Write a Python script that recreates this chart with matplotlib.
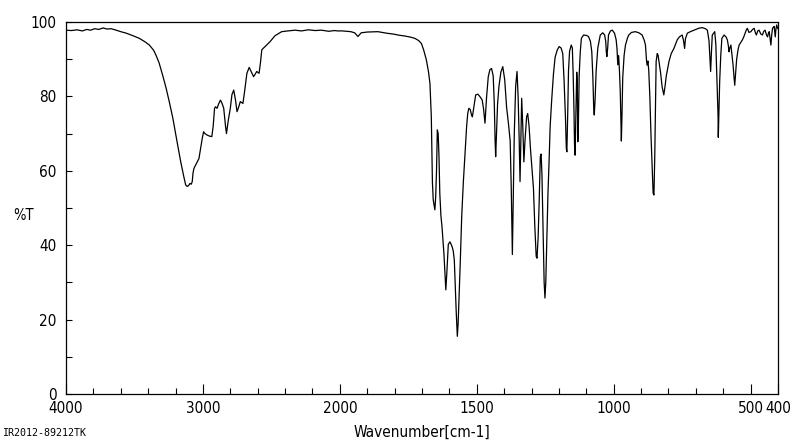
import numpy as np
import matplotlib
matplotlib.use("Agg")
import matplotlib.pyplot as plt
from matplotlib import font_manager
from matplotlib.ticker import FixedLocator, NullFormatter

# ---------------- data ----------------
wavenumber = [
    4000, 3960, 3920, 3880, 3850, 3820, 3790, 3760, 3730, 3700, 3670, 3633, 3600, 3560,
    3510, 3464, 3420, 3391, 3360, 3343, 3320, 3295, 3270, 3246, 3220, 3198, 3180, 3162,
    3140, 3126, 3115, 3105, 3095, 3085, 3078, 3072, 3065, 3041, 3029, 3005, 2995, 2985,
    2969, 2950, 2935, 2925, 2915, 2908, 2897, 2885, 2872, 2860, 2848, 2835, 2828, 2815,
    2800, 2788, 2775, 2762, 2751, 2740, 2727, 2708, 2695, 2679, 2662, 2645, 2630, 2618,
    2607, 2590, 2580, 2570, 2560, 2546, 2510, 2474, 2425, 2380, 2328, 2280, 2230, 2180,
    2135, 2080, 2040, 2015,
    1990, 1960, 1946, 1934, 1922, 1900, 1861, 1830, 1800, 1788, 1760, 1740, 1726, 1712,
    1702, 1694, 1684, 1676, 1671, 1668, 1666, 1664, 1662, 1659, 1655, 1653, 1650, 1647,
    1644, 1641, 1638, 1635, 1631, 1627, 1620, 1616, 1613, 1609, 1604, 1598, 1594, 1590,
    1586, 1582, 1578, 1575, 1571, 1568, 1565, 1560, 1555, 1549, 1542, 1537, 1533, 1529,
    1524, 1519, 1516, 1510, 1504, 1496, 1488, 1480, 1475, 1470, 1464, 1458, 1452, 1446,
    1440, 1436, 1433, 1431, 1428, 1424, 1419, 1412, 1405, 1398, 1391, 1384, 1378, 1374,
    1370, 1367, 1363, 1358, 1353, 1349, 1345, 1342, 1339, 1336, 1332, 1328, 1324, 1318,
    1314, 1309, 1304, 1299, 1293, 1288, 1283, 1280, 1276, 1272, 1268, 1265, 1262, 1258,
    1254, 1251, 1248, 1244, 1240, 1236, 1232, 1226, 1220, 1214, 1206, 1199, 1192, 1186,
    1181, 1176, 1173, 1171, 1168, 1165, 1161, 1155, 1151, 1148, 1145, 1143, 1141, 1138,
    1135, 1133, 1131, 1129, 1126, 1122, 1118, 1110, 1100, 1092, 1085, 1080, 1076, 1073,
    1071, 1068, 1064, 1058, 1049, 1040, 1033, 1029, 1027, 1025, 1022, 1019, 1012, 1005,
    997, 991, 988, 985, 982, 979, 976, 974, 972, 970, 967, 962, 957, 950,
    945, 935, 921, 908, 896, 888, 884, 880, 878, 875, 872, 868, 864, 860,
    856, 853, 850, 847, 845, 841, 838, 834, 829, 823, 817, 812, 808, 798,
    790, 780, 768, 760, 750, 745, 741, 738, 731, 720, 707, 690, 677, 665,
    658, 652, 649, 646, 643, 640, 631, 627, 625, 622, 619, 618, 616, 613,
    609, 605, 597, 590, 585, 581, 579, 576, 572, 568, 564, 561, 558, 555,
    551, 546, 542, 536, 530, 525, 520, 516, 512, 506, 499, 493, 487, 483,
    479, 474, 469, 463, 457, 452, 447, 442, 438, 435, 432, 429, 426, 423,
    420, 417, 414, 412, 410, 408, 405, 402, 400,
]
transmittance = [
    97.8, 97.7, 97.9, 97.6, 98.0, 97.8, 98.2, 98.0, 98.4, 98.1, 98.2, 97.8, 97.4, 97.0,
    96.3, 95.6, 94.6, 93.8, 92.4, 91.1, 89.0, 85.8, 82.4, 78.6, 74.2, 69.6, 66.0, 62.4,
    58.5, 56.2, 55.8, 56.0, 56.6, 56.4, 57.1, 59.5, 60.7, 62.4, 63.3, 68.7, 70.5, 70.0,
    69.6, 69.3, 69.2, 72.0, 76.8, 77.2, 76.8, 78.0, 79.0, 78.1, 76.8, 72.0, 70.0, 73.5,
    76.8, 80.5, 81.7, 79.0, 75.9, 77.0, 78.6, 78.1, 81.5, 86.2, 87.8, 86.5, 85.3, 86.0,
    86.7, 86.2, 89.0, 92.5, 92.9, 93.4, 94.7, 96.3, 97.4, 97.6, 97.8, 97.6, 97.9, 97.7,
    97.8, 97.5, 97.7, 97.6,
    97.6, 97.4, 97.1, 96.1, 97.1, 97.3, 97.4, 97.0, 96.7, 96.5, 96.2, 95.9, 95.6, 95.0,
    94.2, 92.5, 89.8, 86.5, 83.5, 78.0, 74.5, 65.0, 57.0, 52.2, 50.5, 49.5, 53.0, 60.0,
    71.0, 70.0, 64.0, 54.0, 48.0, 45.0, 37.8, 32.0, 28.0, 33.0, 40.2, 40.9, 40.3, 39.6,
    38.5, 36.0, 28.0, 22.0, 15.5, 19.0, 25.3, 36.0, 47.7, 57.0, 65.6, 72.0, 75.4, 76.8,
    76.5, 75.0, 74.5, 77.5, 80.4, 80.6, 79.9, 79.0, 76.5, 72.8, 80.0, 85.3, 87.2, 87.5,
    85.5, 78.0, 68.0, 63.8, 70.0, 78.0, 82.7, 86.5, 88.0, 84.5, 77.0, 72.5, 68.0, 55.0,
    37.5, 52.0, 70.0, 82.7, 86.7, 80.0, 68.0, 57.1, 68.0, 79.5, 72.0, 62.4, 68.0, 74.5,
    75.4, 72.0, 66.0, 61.0, 55.3, 45.0, 37.0, 36.5, 42.0, 52.0, 63.8, 64.5, 59.0, 45.0,
    30.0, 25.8, 30.0, 42.0, 54.0, 62.4, 72.0, 79.5, 86.0, 90.5, 92.5, 93.4, 93.0, 91.5,
    84.0, 74.0, 66.0, 65.1, 75.0, 87.0, 92.2, 93.8, 93.0, 86.0, 76.0, 67.0, 64.2, 75.0,
    86.5, 84.0, 67.8, 72.0, 85.8, 92.0, 95.6, 96.5, 96.4, 96.1, 94.8, 92.0, 85.0, 77.0,
    75.0, 79.0, 87.0, 93.0, 96.5, 97.1, 96.5, 94.7, 92.0, 90.7, 93.0, 96.5, 97.6, 97.8,
    97.0, 95.2, 92.9, 88.5, 91.0, 87.0, 81.3, 74.0, 68.0, 74.0, 85.0, 91.0, 93.8, 95.6,
    96.5, 97.2, 97.4, 97.1, 96.5, 95.0, 93.8, 89.5, 88.4, 89.5, 87.0, 80.0, 70.0, 62.0,
    54.0, 53.5, 64.0, 80.0, 89.4, 91.5, 91.1, 89.0, 86.5, 82.5, 80.4, 83.0, 85.5, 89.4,
    91.5, 92.9, 95.2, 96.0, 96.5, 95.0, 92.9, 95.5, 97.0, 97.4, 97.8, 98.3, 98.5, 98.2,
    97.8, 95.0, 91.0, 86.7, 92.0, 96.5, 97.4, 94.0, 89.0, 82.0, 75.0, 69.0, 75.0, 84.0,
    91.0, 95.6, 96.5, 96.0, 95.2, 93.5, 92.0, 93.0, 93.8, 91.0, 88.4, 85.5, 83.0, 86.0,
    90.0, 92.5, 93.8, 94.5, 95.2, 96.0, 97.0, 97.8, 98.3, 97.2, 97.4, 98.0, 98.3, 97.2,
    96.5, 97.6, 97.8, 96.8, 96.5, 97.5, 97.8, 96.5, 96.0, 97.0, 97.4, 95.5, 93.8, 96.5,
    98.3, 98.6, 98.8, 97.5, 96.0, 97.8, 99.2, 98.5, 98.2,
]

x_major = [4000, 3000, 2000, 1500, 1000, 500, 400]
x_major_labels = ["4000", "3000", "2000", "1500", "1000", "500", "400"]
x_minor = [3800, 3600, 3400, 3200, 2800, 2600, 2400, 2200,
           1900, 1800, 1700, 1600, 1400, 1300, 1200, 1100,
           900, 800, 700, 600]
y_major = [0, 20, 40, 60, 80, 100]
y_minor = [10, 30, 50, 70, 90]

# ---------------- fonts ----------------
has_condensed = any(f.name == "DejaVu Sans" and str(f.stretch) in ("condensed", "semi-condensed", "600", "500")
                    for f in font_manager.fontManager.ttflist)
plt.rcParams["font.family"] = ["DejaVu Sans"]
if has_condensed:
    plt.rcParams["font.stretch"] = "condensed"
    tick_fs, lab_fs = 11.0, 11.0
else:
    tick_fs, lab_fs = 10.0, 10.0

# ---------------- figure ----------------
fig = plt.figure(figsize=(8.0, 4.41), dpi=100)
ax = fig.add_axes([66 / 800, 47 / 441, 712 / 800, 372 / 441])


def fwd(w):
    w = np.asarray(w, dtype=float)
    return np.where(w >= 2000, w, 2 * w - 2000)


def inv(u):
    u = np.asarray(u, dtype=float)
    return np.where(u >= 2000, u, (u + 2000) / 2)


ax.set_xscale("function", functions=(fwd, inv))
ax.plot(wavenumber, transmittance, color="black", lw=0.9)
ax.set_xlim(4000, 400)
ax.set_ylim(0, 100)

ax.xaxis.set_major_locator(FixedLocator(x_major))
ax.xaxis.set_minor_locator(FixedLocator(x_minor))
ax.set_xticklabels(x_major_labels)
ax.xaxis.set_minor_formatter(NullFormatter())
ax.yaxis.set_major_locator(FixedLocator(y_major))
ax.yaxis.set_minor_locator(FixedLocator(y_minor))

ax.tick_params(axis="x", which="major", direction="in", length=7, width=0.8,
               labelsize=tick_fs, pad=5)
ax.tick_params(axis="x", which="minor", direction="in", length=4, width=0.8)
ax.tick_params(axis="y", which="both", direction="in", length=4, width=0.8,
               labelsize=tick_fs, pad=7)
for s in ax.spines.values():
    s.set_linewidth(0.9)
    s.set_color("black")

fig.text(13 / 800, 1 - 216 / 441, "%T", fontsize=lab_fs - 0.5, va="center", ha="left")
fig.text(422 / 800, 1 - 432 / 441, "Wavenumber[cm-1]", fontsize=lab_fs,
         ha="center", va="center")
fig.text(2 / 800, 1 - 433 / 441, "IR2012-89212TK", fontsize=7.2,
         family=["DejaVu Sans Mono"], stretch="normal", ha="left", va="center")

fig.savefig("out.png", dpi=100)
